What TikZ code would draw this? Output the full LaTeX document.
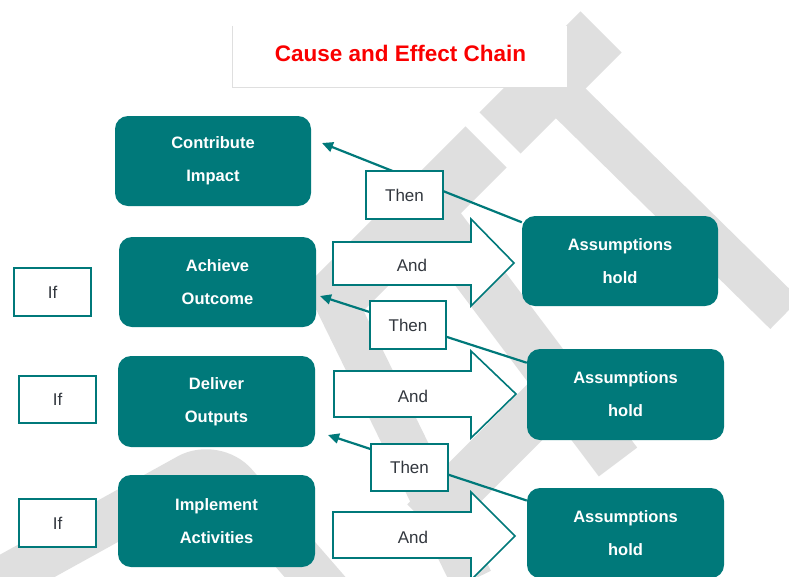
\documentclass[tikz,border=0pt]{standalone}
\usepackage{fontspec}
\setmainfont{Liberation Sans}
\usetikzlibrary{arrows.meta}
\definecolor{tealbox}{RGB}{0,121,122}
\definecolor{wmgray}{RGB}{223,223,223}
\definecolor{txtdark}{RGB}{50,55,62}
\definecolor{titlered}{RGB}{250,0,0}
\begin{document}
\begin{tikzpicture}[x=1pt,y=-1pt,
  wm/.style={draw=wmgray, line cap=butt},
  tbox/.style={fill=tealbox, rounded corners=13pt, text=white,
    font=\bfseries\fontsize{16.5}{33}\selectfont, align=center, inner sep=0pt,
    minimum width=196pt, minimum height=90pt},
  wbox/.style={draw=tealbox, line width=1.6pt, fill=white, text=txtdark,
    font=\fontsize{17}{20}\selectfont, inner sep=0pt,
    minimum width=77pt, minimum height=48pt},
  andtxt/.style={text=txtdark, font=\fontsize{17}{20}\selectfont, inner sep=0pt},
  blockarrow/.style={draw=tealbox, line width=1.6pt, fill=white, line join=miter},
  conn/.style={draw=tealbox, line width=2.2pt, -{Triangle[length=11pt,width=10pt]}},
  titleboxstyle/.style={fill=white, inner sep=0pt, minimum width=334pt, minimum height=61pt}
]
\useasboundingbox (0,0) rectangle (789,576);
\fill[white] (0,0) rectangle (789,576);

% watermark
\begin{scope}
\clip (0,0) rectangle (789,576);
\draw[wm, line width=58pt] (601,32) -- (500,133);
\draw[wm, line width=42pt] (550,83) -- (785,314);
\draw[wm, line width=58pt] (486,147) -- (320,313);
\draw[wm, line width=42pt] (330,290) -- (472,580);
\draw[wm, line width=48pt] (430,212) -- (618,462);
\draw[wm, line width=50pt] (575,372) -- (425,522);
\draw[wm, line width=46pt, rounded corners=30pt] (-20,592) -- (215,462) -- (335,600);
\end{scope}

% title
\node[titleboxstyle] (titlebox) at (400,56.5) {};
\draw[gray!25, line width=0.8pt] (titlebox.north west) -- (titlebox.south west) -- (titlebox.south east);
\node[text=titlered, font=\bfseries\fontsize{22.5}{26}\selectfont, inner sep=0pt] (title) at (400.5,53) {Cause and Effect Chain};

% teal boxes
\node[tbox] (impact) at (213,161) {Contribute\\Impact};
\node[tbox, minimum width=197pt] (outcome) at (217.5,282) {Achieve\\Outcome};
\node[tbox, minimum width=197pt, minimum height=91pt] (outputs) at (216.5,401.5) {Deliver\\Outputs};
\node[tbox, minimum width=197pt, minimum height=92pt] (activities) at (216.5,521) {Implement\\Activities};
\node[tbox] (as1) at (620,261) {Assumptions\\hold};
\node[tbox, minimum width=197pt, minimum height=91pt] (as2) at (625.5,394.5) {Assumptions\\hold};
\node[tbox, minimum width=197pt] (as3) at (625.5,533) {Assumptions\\hold};

% If boxes
\node[wbox] (if1) at (52.5,292) {If};
\node[wbox, minimum height=47pt] (if2) at (57.5,399.5) {If};
\node[wbox] (if3) at (57.5,523) {If};

% block arrows
\draw[blockarrow] (333,242) -- (471,242) -- (471,219) -- (514,263) -- (471,306) -- (471,285) -- (333,285) -- cycle;
\node[andtxt] (and1) at (412,265) {And};
\draw[blockarrow] (334,371) -- (471,371) -- (471,351) -- (516,394) -- (471,438) -- (471,417) -- (334,417) -- cycle;
\node[andtxt] (and2) at (413,396) {And};
\draw[blockarrow] (333,512) -- (471,512) -- (471,492) -- (515,536) -- (471,580) -- (471,558) -- (333,558) -- cycle;
\node[andtxt] (and3) at (413,537) {And};

% connectors
\coordinate (tip1) at (322,143);
\coordinate (tip2) at (320,296);
\coordinate (tip3) at (328,435);
\draw[conn] (as1) -- (tip1);
\draw[conn] (as2) -- (tip2);
\draw[conn] (as3) -- (tip3);

% Then boxes
\node[wbox] (then1) at (404.5,195) {Then};
\node[wbox, minimum width=76pt] (then2) at (408,325) {Then};
\node[wbox, minimum height=47pt] (then3) at (409.5,467.5) {Then};
\end{tikzpicture}
\end{document}
